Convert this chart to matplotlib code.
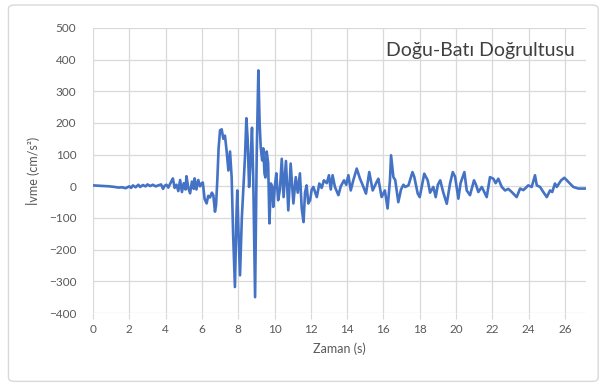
import matplotlib
matplotlib.use("Agg")
import matplotlib.pyplot as plt
from matplotlib.patches import FancyBboxPatch

# acceleration record, east-west component
zaman = [
    0.0, 0.3, 0.6, 0.9, 1.2, 1.4, 1.6, 1.8, 2.0, 2.1, 2.2, 2.35, 2.5, 2.6, 2.75, 2.9,
    3.0, 3.15, 3.3, 3.45, 3.6, 3.75, 3.86, 3.95, 4.05, 4.15, 4.25, 4.4, 4.5, 4.6, 4.7,
    4.8, 4.9, 5.0, 5.1, 5.15, 5.25, 5.35, 5.45, 5.55, 5.6, 5.7, 5.8, 5.9, 6.0, 6.05,
    6.15, 6.26, 6.35, 6.45, 6.55, 6.63, 6.72, 6.78, 6.85, 6.92, 7.0, 7.09, 7.18, 7.27,
    7.36, 7.46, 7.55, 7.64, 7.72, 7.82, 7.9, 7.95, 8.02, 8.1, 8.2, 8.3, 8.38, 8.45,
    8.52, 8.6, 8.68, 8.76, 8.83, 8.93, 9.02, 9.11, 9.18, 9.24, 9.32, 9.38, 9.45, 9.5,
    9.57, 9.65, 9.72, 9.8, 9.88, 9.93, 10.02, 10.1, 10.2, 10.3, 10.4, 10.5, 10.63,
    10.76, 10.89, 11.04, 11.17, 11.28, 11.4, 11.5, 11.6, 11.68, 11.77, 11.86, 11.96,
    12.05, 12.14, 12.33, 12.47, 12.6, 12.72, 12.88, 13.0, 13.1, 13.2, 13.33, 13.52,
    13.65, 13.83, 13.95, 14.07, 14.2, 14.34, 14.53, 14.71, 14.85, 15.04, 15.22, 15.41,
    15.63, 15.72, 15.9, 16.08, 16.23, 16.36, 16.42, 16.55, 16.65, 16.82, 16.97, 17.1,
    17.2, 17.38, 17.6, 17.7, 17.89, 18.0, 18.25, 18.44, 18.57, 18.75, 18.88, 19.0,
    19.13, 19.3, 19.49, 19.67, 19.82, 19.95, 20.13, 20.25, 20.46, 20.59, 20.77, 20.99,
    21.1, 21.23, 21.42, 21.6, 21.69, 21.87, 22.06, 22.18, 22.33, 22.52, 22.7, 22.88,
    23.07, 23.34, 23.53, 23.71, 23.98, 24.17, 24.35, 24.45, 24.63, 24.81, 25.0, 25.18,
    25.3, 25.45, 25.55, 25.79, 25.97, 26.19, 26.46, 26.74, 27.1,
]
ivme = [
    3, 2, 1, 0, -2, -4, -3, -6, 0, -5, 3, -3, 5, -2, 4, 0,
    6, 1, 5, 0, 3, 6, -8, 2, 5, -4, 8, 25, -5, 5, -15,
    20, -18, 10, -10, 32, -5, -22, 15, -8, 25, -10, 20, 0, 10, 12,
    -40, -54, -30, -35, -20, -28, -80, -60, 20, 120, 177, 180, 150, 160,
    113, 50, 110, 28, -150, -318, -100, -13, -150, -281, -100, 9, 100, 215,
    150, -2, 80, 185, 20, -350, 100, 366, 200, 124, 82, 120, 40, 28,
    110, 73, -117, 9, -3, -65, 0, 41, -44, -10, 87, -34, 80,
    -76, 72, -54, 29, -20, 41, -70, -113, -20, 3, -54, -44,
    -10, -2, -34, 9, -5, 19, 10, 35, -10, 35, -2, -28,
    0, 19, 5, 35, -13, 19, 56, 24, 5, -23, 45, -13,
    14, 24, -34, -13, -70, 19, 98, 29, 20, -50, -10, 5,
    -2, 3, 45, 30, -23, -34, 40, 19, -20, -2, -34, 5,
    19, -20, -55, 9, 45, 30, -39, 10, 45, -13, -28, 19,
    5, -18, -2, -23, -34, 29, 24, 10, 24, -2, -13, -8,
    -18, -34, -7, -12, 3, -2, 35, 3, -2, -18, -34, -13,
    -18, 9, -2, 19, 27, 14, -2, -7, -7,
]

x_ticks = list(range(0, 27, 2))
y_ticks = list(range(-400, 501, 100))

plt.rcParams['font.family'] = ['Lato', 'DejaVu Sans']

fig = plt.figure(figsize=(6.03, 3.86), dpi=100)
ax = fig.add_axes([0.1542, 0.1891, 0.8176, 0.7384])

# light rounded frame around the whole chart
frame = FancyBboxPatch((0.014, 0.012), 0.978, 0.975, boxstyle="round,pad=0,rounding_size=0.01",
                       transform=fig.transFigure, facecolor='none', edgecolor='#D9D9D9', lw=1)
fig.patches.append(frame)

ax.plot(zaman, ivme, color='#4472C4', lw=1.9, solid_joinstyle='round')

ax.set_xlim(0, 27.16)
ax.set_ylim(-400, 500)
ax.set_xticks(x_ticks)
ax.set_yticks(y_ticks)
ax.grid(True, color='#D9D9D9', lw=0.9)
ax.set_axisbelow(True)
for s in ax.spines.values():
    s.set_visible(False)
ax.tick_params(axis='x', length=4, color='#D9D9D9', labelsize=8.5, labelcolor='#595959', pad=4)
ax.tick_params(axis='y', length=0, labelsize=8.5, labelcolor='#595959', pad=12)

ax.set_xlabel('Zaman (s)', fontsize=9, color='#595959', labelpad=5)
ax.set_ylabel('İvme (cm/s²)', fontsize=9, color='#595959', labelpad=6)

ax.text(0.978, 0.95, 'Doğu-Batı Doğrultusu', transform=ax.transAxes, ha='right', va='top',
        fontsize=14, color='#404040')

fig.savefig('out.png', dpi=100)
